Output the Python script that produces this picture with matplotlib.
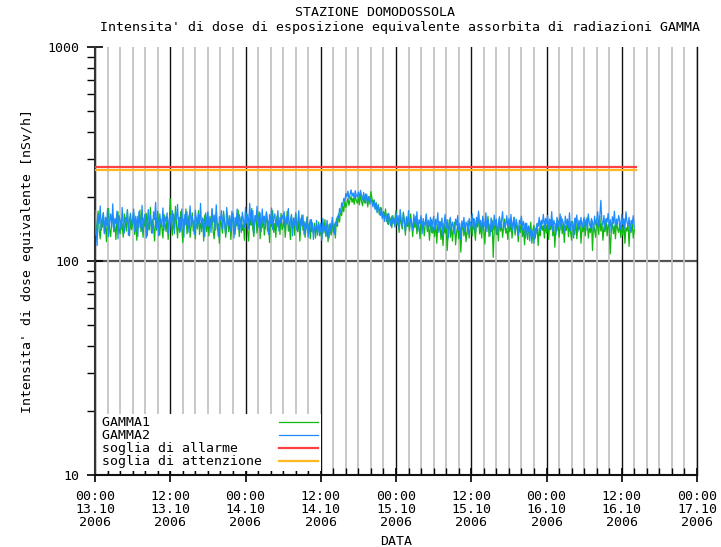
import numpy as np
import matplotlib
matplotlib.use("Agg")
import matplotlib.pyplot as plt
from matplotlib.ticker import MultipleLocator, LogLocator, FixedLocator, NullFormatter

plt.rcParams['font.family'] = ['DejaVu Sans Mono']
plt.rcParams['font.size'] = 9.5

# ---- data (10-minute samples starting 13.10.2006 00:00) ----
gamma1 = [
    160,132,151,171,139,127,156,144,168,135,149,123,158,176,141,130,153,164,137,147,126,159,170,142,134,155,148,129,166,151,138,174,145,131,157,140,
    149,168,133,154,125,162,143,173,137,150,129,158,145,167,131,152,140,178,135,156,146,124,160,139,171,148,132,157,143,128,165,150,137,161,126,153,
    195,150,132,166,141,180,147,128,159,136,170,145,122,157,149,175,134,152,163,129,146,168,138,155,127,160,143,172,133,150,141,158,124,164,147,137,
    156,131,162,145,174,138,127,153,166,140,149,121,160,147,135,171,152,129,144,163,137,158,126,150,168,142,133,155,146,173,130,152,161,139,148,125,
    151,166,137,124,158,147,176,141,130,154,163,135,148,170,127,156,143,161,132,149,168,138,153,122,157,145,172,136,150,129,162,144,155,133,167,140,
    145,160,129,152,171,138,148,126,163,142,155,132,167,146,137,158,124,150,164,139,153,129,145,161,134,149,127,156,141,135,150,128,143,137,152,131,
    142,127,150,135,156,130,144,123,148,139,132,153,136,149,128,158,145,166,152,174,163,181,170,190,178,186,196,182,193,200,188,197,184,202,191,186,
    198,183,205,190,181,199,187,206,194,179,200,189,211,196,185,193,176,188,170,184,165,178,172,158,169,162,175,153,166,148,160,155,143,163,150,158,
    172,147,158,136,164,150,141,169,155,132,160,145,152,138,166,149,130,157,143,162,134,151,146,127,159,140,154,131,148,163,137,150,125,145,156,135,
    144,130,157,121,148,139,153,126,142,118,150,135,145,112,138,156,129,147,124,141,152,119,136,148,127,143,110,139,150,131,146,123,137,154,128,142,
    150,131,158,140,125,153,144,166,134,147,128,156,139,120,151,143,162,130,148,137,155,104,141,152,133,146,124,159,138,149,129,145,157,135,142,126,
    148,137,155,128,144,160,132,151,141,123,147,136,158,130,143,119,150,138,126,145,133,152,121,140,147,127,135,149,118,142,131,153,139,146,128,150,
    135,152,126,147,140,158,131,145,116,149,138,155,129,143,161,134,150,122,146,139,157,130,148,136,125,153,142,133,159,127,147,140,152,121,144,137,
    153,131,147,160,128,142,136,155,112,149,140,129,157,144,133,162,138,150,125,145,137,156,131,148,143,108,139,152,134,146,127,155,141,136,150,129,
    146,132,155,121,143,138,150,117,145,136,152,128,140,
]
gamma2 = [
    172,142,118,165,150,181,139,157,168,134,160,147,176,130,153,166,143,185,138,158,149,171,127,163,155,140,178,146,135,160,152,173,132,157,167,145,
    158,175,137,162,149,130,170,154,143,182,136,159,165,128,151,174,140,163,147,135,170,156,188,142,158,131,166,150,145,177,139,161,153,168,134,157,
    163,140,172,151,134,167,157,184,143,160,138,175,152,129,165,147,170,136,158,181,145,162,150,133,173,155,141,166,149,186,137,159,154,130,168,146,
    170,145,158,136,176,152,164,139,183,147,130,161,155,172,141,166,150,134,178,157,146,163,138,171,153,128,160,148,175,140,165,152,136,169,155,143,
    178,151,165,141,186,158,147,172,135,163,154,180,144,159,168,137,175,150,162,142,170,156,133,165,149,177,140,158,166,145,153,172,138,160,150,164,
    157,170,142,161,149,176,138,155,165,131,159,147,168,140,153,172,136,158,146,164,133,152,141,160,129,148,156,137,151,126,145,139,155,132,149,136,
    150,125,158,138,146,131,155,142,128,150,137,160,144,133,152,147,162,158,176,168,187,180,196,190,207,199,212,195,204,215,201,208,196,213,203,199,
    210,197,214,202,193,209,198,186,205,191,200,184,195,188,179,192,174,186,168,181,172,163,177,158,170,153,165,160,149,167,156,146,162,150,158,144,
    168,150,163,141,174,155,146,167,152,137,161,148,172,143,157,150,139,165,153,145,170,138,156,149,163,134,158,147,152,166,140,155,145,160,136,151,
    162,140,155,148,168,136,153,143,159,131,150,165,142,156,128,149,160,138,152,145,134,157,147,163,139,150,126,154,144,160,137,152,148,133,158,145,
    153,166,141,157,135,160,149,171,144,155,138,162,150,145,168,137,156,148,131,159,152,140,164,146,157,133,150,161,143,155,170,139,151,147,163,142,
    158,144,165,139,152,160,136,157,147,131,155,149,162,140,153,145,128,150,137,146,124,141,130,138,121,143,135,150,145,160,138,155,149,165,142,158,
    150,163,141,157,146,170,138,155,149,132,160,152,145,166,140,157,151,136,162,148,155,143,168,139,153,147,128,158,150,164,137,155,146,160,143,152,
    160,145,157,139,166,150,143,158,152,137,162,148,155,170,145,160,192,153,147,163,140,158,152,167,144,156,136,161,150,171,142,157,148,163,154,140,
    165,148,158,141,170,152,146,160,137,155,149,163,143,
]
sample_step_h = 1.0 / 6.0
soglia_allarme = 275
soglia_attenzione = 265
soglia_end_h = 86.2

tick_hours = [0, 12, 24, 36, 48, 60, 72, 84, 96]
tick_labels = ["00:00\n13.10\n2006", "12:00\n13.10\n2006", "00:00\n14.10\n2006",
               "12:00\n14.10\n2006", "00:00\n15.10\n2006", "12:00\n15.10\n2006",
               "00:00\n16.10\n2006", "12:00\n16.10\n2006", "00:00\n17.10\n2006"]

t1 = np.arange(len(gamma1)) * sample_step_h
t2 = np.arange(len(gamma2)) * sample_step_h

fig = plt.figure(figsize=(7.21, 5.47), dpi=100)
ax = fig.add_axes([95/721, 1-475/547, 602/721, 428/547])

ax.set_yscale('log')
ax.set_ylim(10, 1000)
ax.set_xlim(0, 96)

# grid
ax.xaxis.set_major_locator(FixedLocator(tick_hours))
ax.xaxis.set_minor_locator(MultipleLocator(2))
ax.grid(which='minor', axis='x', color='#c4c4c4', lw=1.3, zorder=0)
ax.grid(which='major', axis='x', color='#111111', lw=1.0, zorder=0)
ax.axhline(100, color='#555555', lw=1.6, zorder=1)

l1, = ax.plot(t1, gamma1, color='#10b810', lw=0.9, label='GAMMA1', zorder=3)
l2, = ax.plot(t2, gamma2, color='#1e8cff', lw=0.9, label='GAMMA2', zorder=3)
l3, = ax.plot([0, soglia_end_h], [soglia_allarme]*2, color='#ff4040', lw=1.6, label='soglia di allarme', zorder=3)
l4, = ax.plot([0, soglia_end_h], [soglia_attenzione]*2, color='#ffb820', lw=1.6, label='soglia di attenzione', zorder=3)

ax.set_xticklabels(tick_labels)
for lb in ax.get_xticklabels():
    lb.set_linespacing(1.0)

ax.yaxis.set_major_locator(FixedLocator([10, 100, 1000]))
ax.yaxis.set_minor_locator(LogLocator(base=10, subs=np.arange(2, 10)))
ax.yaxis.set_minor_formatter(NullFormatter())
ax.set_yticklabels(['10', '100', '1000'])

ax.tick_params(axis='x', which='major', direction='inout', length=10, width=1.2, pad=6, colors='black')
ax.tick_params(axis='x', which='minor', direction='in', length=5, width=1.0)
ax.tick_params(axis='y', which='major', direction='inout', length=12, width=1.2, pad=5)
ax.tick_params(axis='y', which='minor', direction='out', length=6, width=1.0)

ax.spines['top'].set_visible(False)
ax.spines['right'].set_color('#111111')
ax.spines['right'].set_linewidth(1.0)
ax.spines['left'].set_color('#333333')
ax.spines['left'].set_linewidth(1.5)
ax.spines['bottom'].set_color('#111111')
ax.spines['bottom'].set_linewidth(1.5)

ax.set_xlabel('DATA', labelpad=4)
ax.set_ylabel("Intensita' di dose equivalente [nSv/h]", labelpad=10)

handles = [l1, l2, l3, l4]
width = max(len(h.get_label()) for h in handles)
leg = ax.legend(handles=handles, labels=[h.get_label().ljust(width) for h in handles],
                loc='lower left', markerfirst=False,
                frameon=True, fancybox=False, framealpha=1, facecolor='white',
                edgecolor='none', handlelength=3.0, handletextpad=1.3,
                labelspacing=0.0, borderpad=0.2, borderaxespad=0.3, fontsize=9.5)
leg.set_zorder(5)

fig.text(375/721, 1-13/547, "STAZIONE DOMODOSSOLA", ha='center', va='center', fontsize=9.5)
fig.text(400/721, 1-27/547, "Intensita' di dose di esposizione equivalente assorbita di radiazioni GAMMA",
         ha='center', va='center', fontsize=9.5)

fig.savefig('out.png', dpi=100)
